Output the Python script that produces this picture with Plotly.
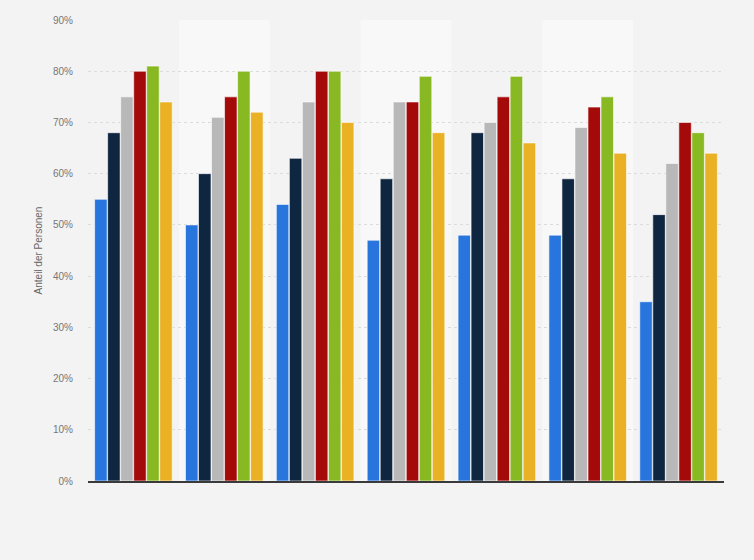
import plotly.graph_objects as go

# seven groups, six series each (no category labels shown in the original)
groups = [0, 1, 2, 3, 4, 5, 6]
serie_1 = [55, 50, 54, 47, 48, 48, 35]
serie_2 = [68, 60, 63, 59, 68, 59, 52]
serie_3 = [75, 71, 74, 74, 70, 69, 62]
serie_4 = [80, 75, 80, 74, 75, 73, 70]
serie_5 = [81, 80, 80, 79, 79, 75, 68]
serie_6 = [74, 72, 70, 68, 66, 64, 64]

y_ticks = [0, 10, 20, 30, 40, 50, 60, 70, 80, 90]
y_labels = [str(v) + "%" for v in y_ticks]

series = [serie_1, serie_2, serie_3, serie_4, serie_5, serie_6]
colors = ["#2876dd", "#0f2640", "#b8b8b8", "#a50a0a", "#88b923", "#eab124"]

fig = go.Figure()
for i, values in enumerate(series):
    fig.add_trace(go.Bar(
        x=groups, y=values, name="Serie " + str(i + 1),
        marker=dict(color=colors[i], line=dict(color="rgba(255,255,255,0.6)", width=1)),
        hovertemplate="%{y}%<extra></extra>"))

# lighter background bands behind every second group
shapes = []
for g in groups:
    if g % 2 == 1:
        shapes.append(dict(type="rect", xref="x", yref="paper", x0=g - 0.5, x1=g + 0.5,
                           y0=0, y1=1, fillcolor="#f8f8f8", line=dict(width=0), layer="below"))

fig.update_layout(
    width=754, height=560,
    margin=dict(l=88, r=30, t=20, b=79),
    paper_bgcolor="#f3f3f3", plot_bgcolor="#f3f3f3",
    barmode="group", bargap=0.14, bargroupgap=0.04,
    showlegend=False,
    shapes=shapes,
    font=dict(family="Arial, Liberation Sans, sans-serif", size=10, color="#777"),
)
fig.update_xaxes(range=[-0.5, 6.5], showticklabels=False, showgrid=False, zeroline=False,
                 showline=True, linecolor="#3a3a3a", linewidth=2)
fig.update_yaxes(range=[0, 90], tickvals=y_ticks, ticktext=y_labels, showgrid=True,
                 gridcolor="#dcdcdc", griddash="dot", gridwidth=1, zeroline=False,
                 ticklabelstandoff=14, tickfont=dict(size=10, color="#777"),
                 title=dict(text="Anteil der Personen", font=dict(size=10, color="#666"), standoff=8))

fig.write_html("out.html", config={"displayModeBar": False},
               post_script="document.body.style.margin='0';document.body.style.background='#f3f3f3';")
